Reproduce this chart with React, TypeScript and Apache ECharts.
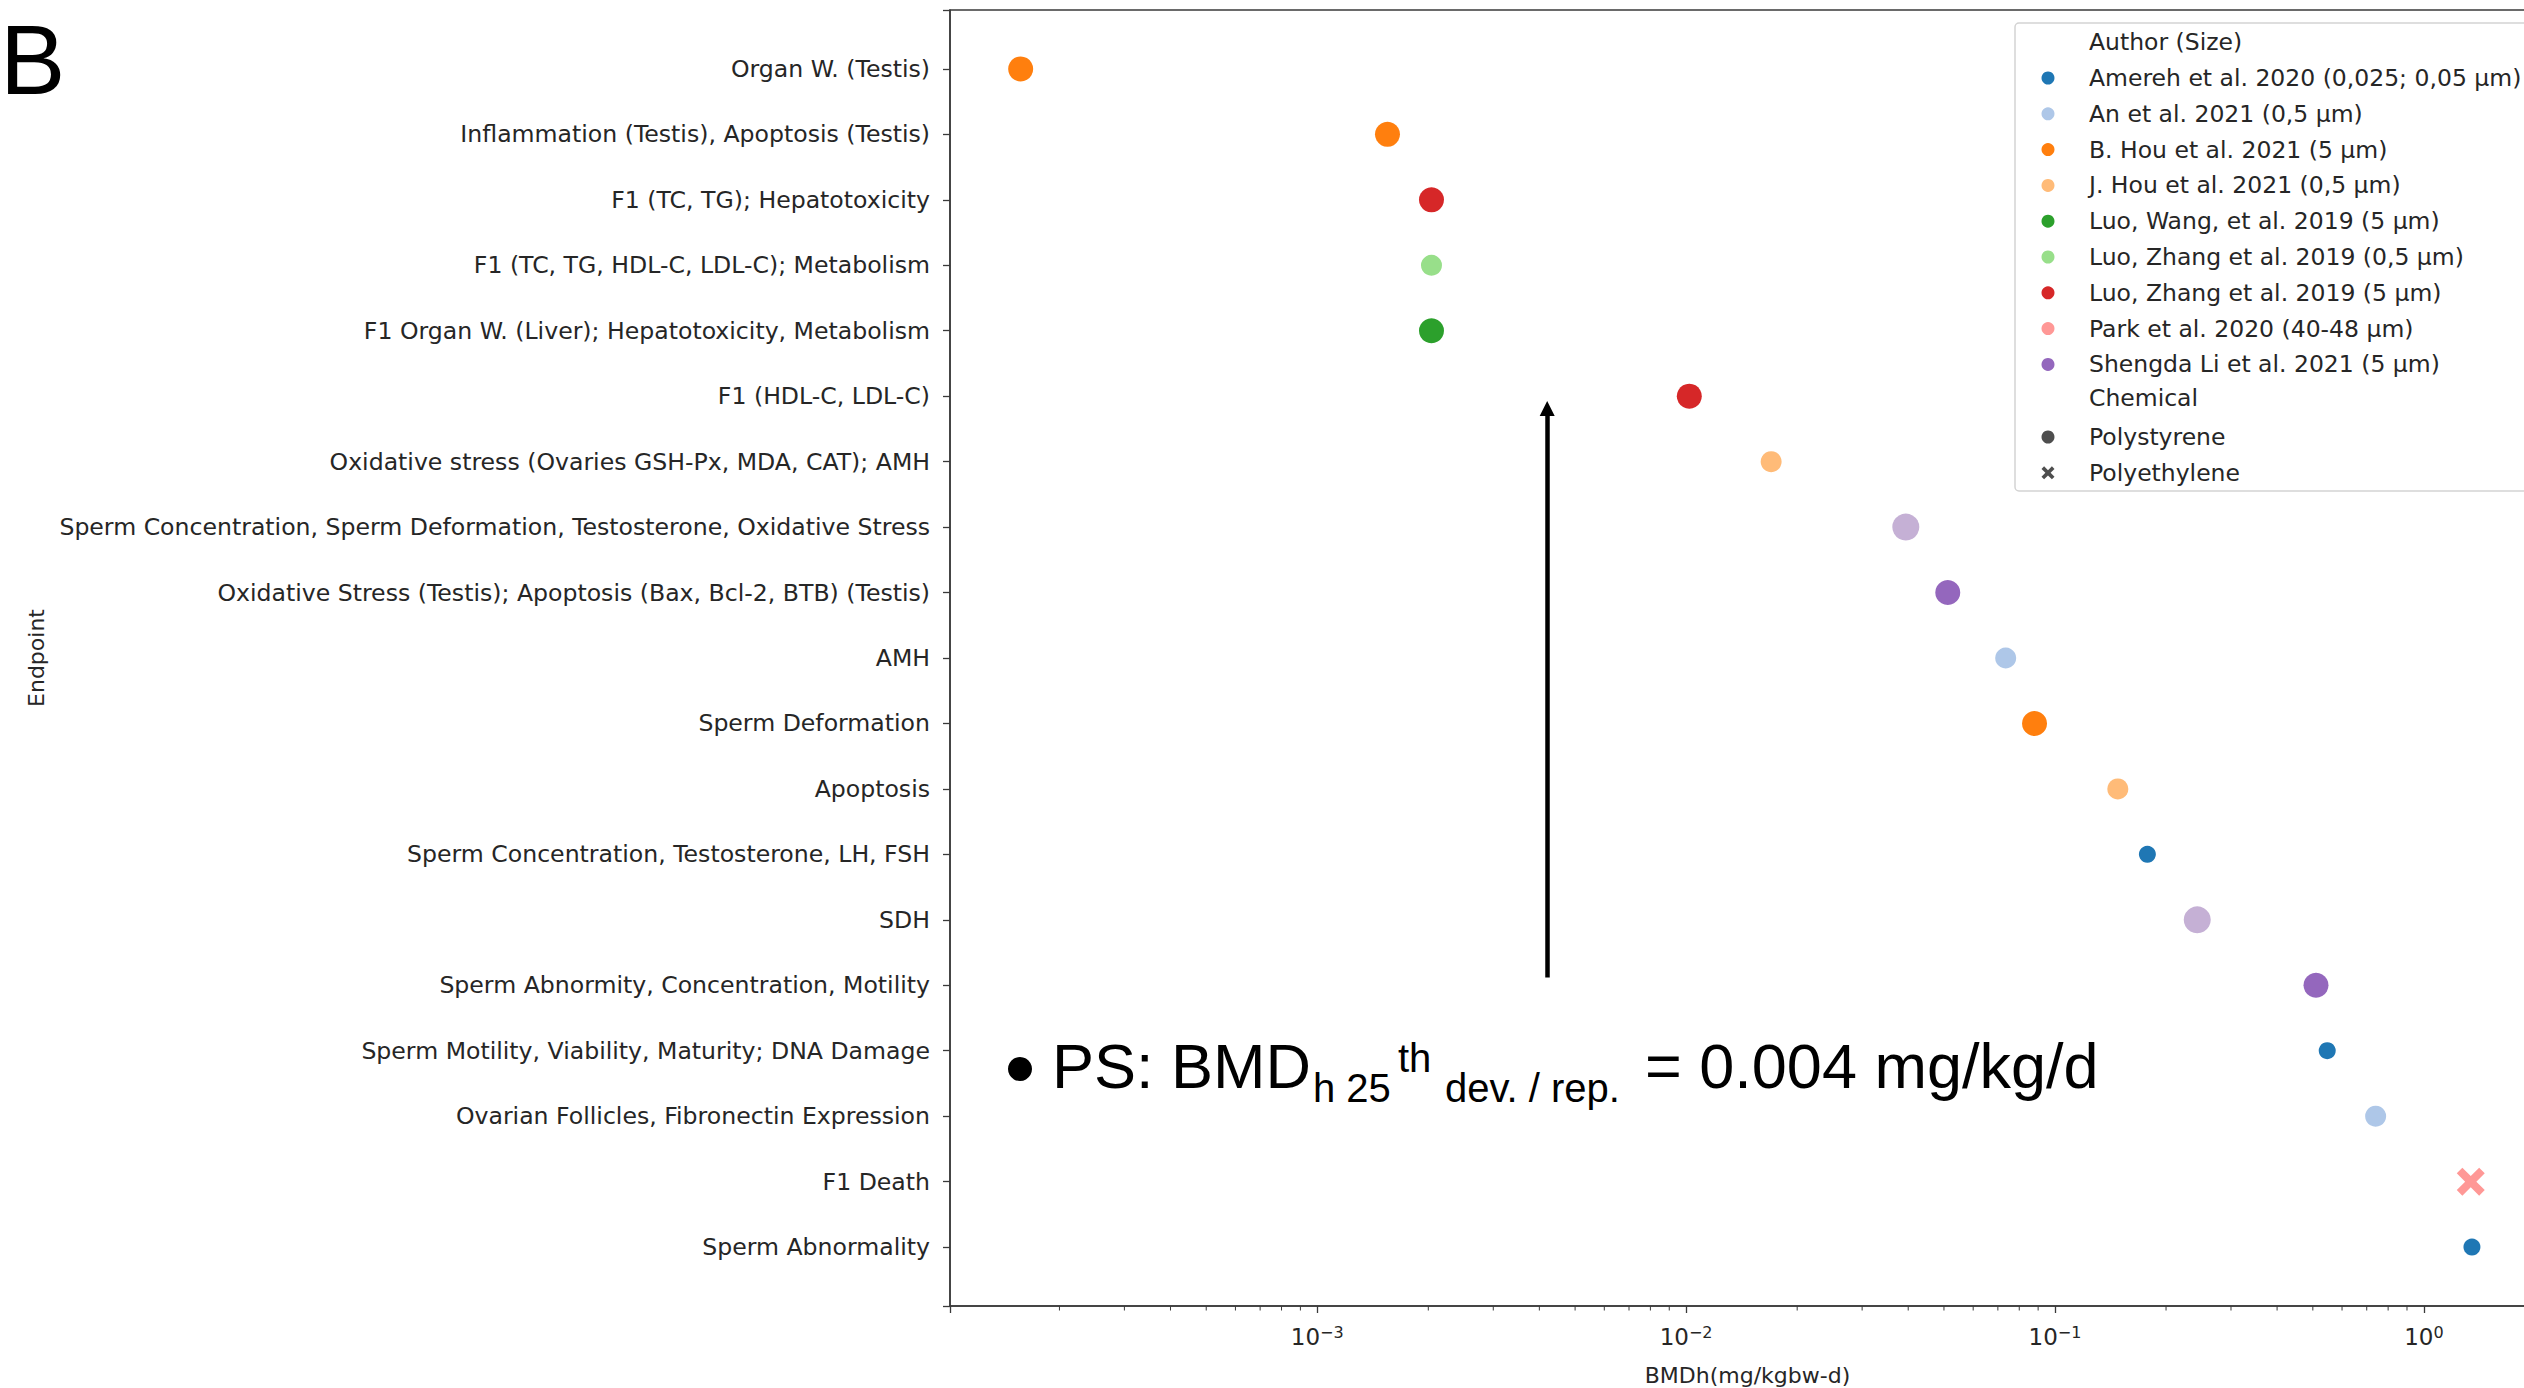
import React, { useEffect, useRef } from 'react';
import * as echarts from 'echarts';

// ---------- data ----------
const endpoints = [
  'Organ W. (Testis)',
  'Inflammation (Testis), Apoptosis (Testis)',
  'F1 (TC, TG); Hepatotoxicity',
  'F1 (TC, TG, HDL-C, LDL-C); Metabolism',
  'F1 Organ W. (Liver); Hepatotoxicity, Metabolism',
  'F1 (HDL-C, LDL-C)',
  'Oxidative stress (Ovaries GSH-Px, MDA, CAT); AMH',
  'Sperm Concentration, Sperm Deformation, Testosterone, Oxidative Stress',
  'Oxidative Stress (Testis); Apoptosis (Bax, Bcl-2, BTB) (Testis)',
  'AMH',
  'Sperm Deformation',
  'Apoptosis',
  'Sperm Concentration, Testosterone, LH, FSH',
  'SDH',
  'Sperm Abnormity, Concentration, Motility',
  'Sperm Motility, Viability, Maturity; DNA Damage',
  'Ovarian Follicles, Fibronectin Expression',
  'F1 Death',
  'Sperm Abnormality',
];

const bmdValues = [
  1.57e-4, 1.55e-3, 2.04e-3, 2.04e-3, 2.04e-3, 1.02e-2, 1.7e-2, 3.94e-2, 5.12e-2, 7.35e-2,
  8.8e-2, 0.148, 0.178, 0.243, 0.51, 0.547, 0.74, 1.34, 1.35,
];

const authors = [
  'Amereh et al. 2020 (0,025; 0,05 µm)',
  'An et al. 2021 (0,5 µm)',
  'B. Hou et al. 2021 (5 µm)',
  'J. Hou et al. 2021 (0,5 µm)',
  'Luo, Wang, et al. 2019 (5 µm)',
  'Luo, Zhang et al. 2019 (0,5 µm)',
  'Luo, Zhang et al. 2019 (5 µm)',
  'Park et al. 2020 (40-48 µm)',
  'Shengda Li et al. 2021 (5 µm)',
];
const unlistedAuthor = 'Unlisted author';

// author of each endpoint row (index into authors, 9 = unlisted)
const pointAuthor = [2, 2, 6, 5, 4, 6, 3, 9, 8, 1, 2, 3, 0, 9, 8, 0, 1, 7, 0];

const chemicals = ['Polystyrene', 'Polyethylene'];
const pointChemical = [0, 0, 0, 0, 0, 0, 0, 0, 0, 0, 0, 0, 0, 0, 0, 0, 0, 1, 0];

const majorTickLabelsExp = [-3, -2, -1, 0];
const minorMultipliers = [2, 3, 4, 5, 6, 7, 8, 9];
const minorDecades = [1e-4, 1e-3, 1e-2, 1e-1, 1];

const arrowBmd = 0.0042; // arrow position as drawn (≈ 0.004 mg/kg/d)

// ---------- styles ----------
const authorColors = [
  '#1f77b4', '#aec7e8', '#ff7f0e', '#ffbb78', '#2ca02c', '#98df8a', '#d62728', '#ff9896', '#9467bd', '#c5b0d5',
];
const authorSizes = [17, 21, 25, 21, 25, 21, 25, 28, 25, 27];
const X_PATH = 'path://M2,0 L5,3 L8,0 L10,2 L7,5 L10,8 L8,10 L5,7 L2,10 L0,8 L3,5 L0,2 Z';
const TXT = '#262626';
const AX = '#3a3a3a';
const FONT = 'DejaVu Sans';
const ARIAL = 'Liberation Sans';

const Y_MIN = -0.9;
const Y_MAX = 18.9;

export default function App() {
  const ref = useRef<HTMLDivElement>(null);

  useEffect(() => {
    if (!ref.current) return;
    const chart = echarts.init(ref.current, null, { renderer: 'svg' });

    const allAuthors = [...authors, unlistedAuthor];
    const authorSeries = allAuthors.map((name, a) => ({
      type: 'scatter',
      name,
      symbolSize: authorSizes[a],
      itemStyle: { color: authorColors[a], opacity: 1 },
      z: 5,
      data: bmdValues
        .map((v, i) => ({ v, i }))
        .filter((d) => pointAuthor[d.i] === a)
        .map((d) => ({
          value: [d.v, d.i],
          symbol: pointChemical[d.i] === 1 ? X_PATH : 'circle',
        })),
    }));

    const minorData: number[][] = [];
    minorDecades.forEach((d) => minorMultipliers.forEach((m) => minorData.push([d * m, Y_MAX])));

    const legendText = { fontSize: 23.5, lineHeight: 22, color: TXT, fontFamily: FONT, padding: [0, 0, 0, 29.5] };

    const option: any = {
      animation: false,
      backgroundColor: '#ffffff',
      textStyle: { fontFamily: FONT, color: TXT },
      grid: {
        left: 950,
        top: 10,
        width: 1595,
        bottom: 82,
        containLabel: false,
        outerBoundsMode: 'none',
        show: true,
        borderColor: AX,
        borderWidth: 1.5,
        backgroundColor: 'transparent',
      },
      xAxis: {
        type: 'log',
        logBase: 10,
        min: 1.01e-4,
        max: 2.13,
        name: 'BMDh(mg/kgbw-d)',
        nameLocation: 'middle',
        nameGap: 58,
        nameTextStyle: { fontSize: 22, color: TXT, fontFamily: FONT },
        splitLine: { show: false },
        axisLine: { show: true, onZero: false, lineStyle: { color: AX, width: 1.5 } },
        axisTick: { show: true, length: 7, lineStyle: { color: AX, width: 1.3 } },
        axisLabel: {
          margin: 18,
          formatter: (v: number) => {
            const e = Math.round(Math.log10(v));
            if (Math.abs(v - Math.pow(10, e)) > 1e-6 * v) return '';
            if (majorTickLabelsExp.indexOf(e) < 0) return '';
            const s = e < 0 ? '\u2212' + Math.abs(e) : String(e);
            return '{b|10}{s|' + s + '}';
          },
          rich: {
            b: { fontSize: 23, fontFamily: FONT, color: TXT, lineHeight: 26 },
            s: { fontSize: 16, fontFamily: FONT, color: TXT, lineHeight: 16, verticalAlign: 'top' },
          },
        },
      },
      yAxis: {
        type: 'value',
        inverse: true,
        min: Y_MIN,
        max: Y_MAX,
        splitNumber: 20,
        minInterval: 1,
        maxInterval: 1,
        name: 'Endpoint',
        nameLocation: 'middle',
        nameGap: 903,
        nameTextStyle: { fontSize: 22, color: TXT, fontFamily: FONT },
        splitLine: { show: false },
        axisLine: { show: true, onZero: false, lineStyle: { color: AX, width: 1.5 } },
        axisTick: { show: true, length: 7, lineStyle: { color: AX, width: 1.3 } },
        axisLabel: {
          margin: 20,
          fontSize: 23.6,
          fontFamily: FONT,
          color: TXT,
          formatter: (v: number) => {
            const i = Math.round(v);
            if (Math.abs(v - i) > 1e-6 || i < 0 || i >= endpoints.length) return '';
            return endpoints[i];
          },
        },
      },
      legend: [
        {
          data: authors,
          orient: 'vertical',
          left: 2036.5,
          top: 61,
          icon: 'circle',
          itemWidth: 13,
          itemHeight: 13,
          itemGap: 11.8,
          selectedMode: false,
          textStyle: legendText,
        },
        {
          data: [
            { name: chemicals[0], icon: 'circle' },
            { name: chemicals[1], icon: X_PATH },
          ],
          orient: 'vertical',
          left: 2036.5,
          top: 420,
          itemWidth: 13,
          itemHeight: 13,
          itemGap: 11.8,
          selectedMode: false,
          textStyle: legendText,
        },
      ],
      series: [
        ...authorSeries,
        { type: 'scatter', name: chemicals[0], data: [], itemStyle: { color: '#222' } },
        { type: 'scatter', name: chemicals[1], data: [], symbol: X_PATH, itemStyle: { color: '#222' } },
        {
          type: 'custom',
          name: 'minorTicks',
          silent: true,
          clip: false,
          data: minorData,
          encode: { x: 0, y: 1 },
          renderItem: (params: any, api: any) => {
            const p = api.coord([api.value(0), api.value(1)]);
            return {
              type: 'line',
              shape: { x1: p[0], y1: p[1], x2: p[0], y2: p[1] + 4.5 },
              style: { stroke: AX, lineWidth: 1 },
            };
          },
        },
        {
          type: 'scatter',
          name: 'arrow',
          data: [],
          markLine: {
            silent: true,
            symbol: ['none', 'triangle'],
            symbolSize: [15, 15],
            label: { show: false },
            lineStyle: { color: '#000', width: 4.5, type: 'solid' },
            data: [[{ coord: [arrowBmd, 13.88] }, { coord: [arrowBmd, 5.19] }]],
          },
        },
      ],
      graphic: [
        {
          type: 'rect',
          z: 0,
          shape: { x: 2015, y: 23, width: 620, height: 468, r: 4 },
          style: { fill: 'rgba(255,255,255,0.85)', stroke: '#d3d3d3', lineWidth: 1.5 },
        },
        {
          type: 'text',
          z: 10,
          x: 2089,
          y: 42,
          style: { text: 'Author (Size)', fontSize: 23.5, fontFamily: FONT, fill: TXT, verticalAlign: 'middle' },
        },
        {
          type: 'text',
          z: 10,
          x: 2089,
          y: 398,
          style: { text: 'Chemical', fontSize: 23.5, fontFamily: FONT, fill: TXT, verticalAlign: 'middle' },
        },
        {
          type: 'text',
          z: 10,
          x: 0,
          y: 11,
          style: { text: 'B', fontSize: 98, lineHeight: 98, fontFamily: ARIAL, fill: '#000', verticalAlign: 'top' },
        },
        {
          type: 'circle',
          z: 10,
          shape: { cx: 1020, cy: 1069, r: 12 },
          style: { fill: '#000' },
        },
        {
          type: 'text',
          z: 10,
          x: 1052,
          y: 1066,
          style: { text: 'PS: BMD', fontSize: 63, fontFamily: ARIAL, fill: '#000', verticalAlign: 'middle' },
        },
        {
          type: 'text',
          z: 10,
          x: 1313,
          y: 1087.5,
          style: { text: 'h 25', fontSize: 40, fontFamily: ARIAL, fill: '#000', verticalAlign: 'middle' },
        },
        {
          type: 'text',
          z: 10,
          x: 1398,
          y: 1058,
          style: { text: 'th', fontSize: 40, fontFamily: ARIAL, fill: '#000', verticalAlign: 'middle' },
        },
        {
          type: 'text',
          z: 10,
          x: 1445,
          y: 1087.5,
          style: { text: 'dev. / rep.', fontSize: 40, fontFamily: ARIAL, fill: '#000', verticalAlign: 'middle' },
        },
        {
          type: 'text',
          z: 10,
          x: 1645,
          y: 1066,
          style: { text: '= 0.004 mg/kg/d', fontSize: 63, fontFamily: ARIAL, fill: '#000', verticalAlign: 'middle' },
        },
      ],
    };

    chart.setOption(option);
    return () => chart.dispose();
  }, []);

  return (
    <div
      ref={ref}
      style={{ position: 'absolute', left: 0, top: 0, width: 2524, height: 1388, background: '#fff' }}
    />
  );
}
